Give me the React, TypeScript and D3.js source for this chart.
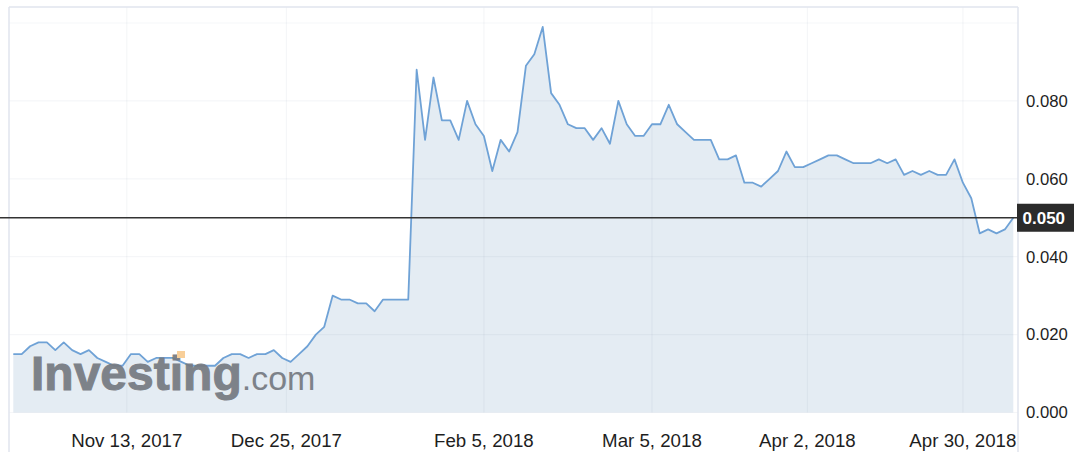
import React, { useEffect, useRef } from 'react';
import * as d3 from 'd3';

// daily closes, one per trading day
const prices: number[] = [
  0.015, 0.015, 0.017, 0.018, 0.018, 0.016, 0.018, 0.016, 0.015, 0.016,
  0.014, 0.013, 0.012, 0.012, 0.015, 0.015, 0.013, 0.014, 0.014, 0.014,
  0.013, 0.012, 0.012, 0.012, 0.012, 0.014, 0.015, 0.015, 0.014, 0.015,
  0.015, 0.016, 0.014, 0.013, 0.015, 0.017, 0.02, 0.022, 0.03, 0.029,
  0.029, 0.028, 0.028, 0.026, 0.029, 0.029, 0.029, 0.029, 0.088, 0.07,
  0.086, 0.075, 0.075, 0.07, 0.08, 0.074, 0.071, 0.062, 0.07, 0.067,
  0.072, 0.089, 0.092, 0.099, 0.082, 0.079, 0.074, 0.073, 0.073, 0.07,
  0.073, 0.069, 0.08, 0.074, 0.071, 0.071, 0.074, 0.074, 0.079, 0.074,
  0.072, 0.07, 0.07, 0.07, 0.065, 0.065, 0.066, 0.059, 0.059, 0.058,
  0.06, 0.062, 0.067, 0.063, 0.063, 0.064, 0.065, 0.066, 0.066, 0.065,
  0.064, 0.064, 0.064, 0.065, 0.064, 0.065, 0.061, 0.062, 0.061, 0.062,
  0.061, 0.061, 0.065, 0.059, 0.055, 0.046, 0.047, 0.046, 0.047, 0.05,
];

// date ticks sit at (fractional) trading-day positions
const xTickLabels = ['Nov 13, 2017', 'Dec 25, 2017', 'Feb 5, 2018', 'Mar 5, 2018', 'Apr 2, 2018', 'Apr 30, 2018'];
const xTickIndex = [13.5, 32.5, 56, 76, 94.5, 113];

const yGrid = [0, 0.02, 0.04, 0.06, 0.08, 0.1];
const yLabels = [0, 0.02, 0.04, 0.06, 0.08];

const lastPrice = 0.05;

export default function App() {
  const ref = useRef<SVGSVGElement>(null);

  useEffect(() => {
    document.body.style.margin = '0';

    const width = 1074;
    const height = 452;
    const frame = { left: 9, top: 7, right: 1018, bottom: 412.5 };
    const font = '"Liberation Sans", Arial, Helvetica, sans-serif';

    const svg = d3.select(ref.current);
    svg.selectAll('*').remove();

    const xScale = d3
      .scaleLinear()
      .domain([0, prices.length - 1])
      .range([13.3, 1013.3]);

    const yScale = d3.scaleLinear().domain([0, 0.1]).range([frame.bottom, 23]);

    svg.append('rect').attr('width', width).attr('height', height).attr('fill', '#fff');

    const area = d3
      .area<number>()
      .x((d, i) => xScale(i))
      .y0(yScale(0))
      .y1((d) => yScale(d));

    const line = d3
      .line<number>()
      .x((d, i) => xScale(i))
      .y((d) => yScale(d));

    svg.append('path').datum(prices).attr('d', area).attr('fill', '#e4ecf3');

    // grid
    const grid = svg.append('g').attr('stroke', '#5a6e8c').attr('stroke-opacity', 0.06).attr('stroke-width', 1.2);
    grid
      .selectAll('line.h')
      .data(yGrid)
      .enter()
      .append('line')
      .attr('x1', frame.left)
      .attr('x2', frame.right)
      .attr('y1', (d) => yScale(d))
      .attr('y2', (d) => yScale(d));
    grid
      .selectAll('line.v')
      .data(xTickIndex)
      .enter()
      .append('line')
      .attr('x1', (d) => xScale(d))
      .attr('x2', (d) => xScale(d))
      .attr('y1', frame.top)
      .attr('y2', frame.bottom);

    svg
      .append('path')
      .datum(prices)
      .attr('d', line)
      .attr('fill', 'none')
      .attr('stroke', '#6fa2d6')
      .attr('stroke-width', 1.8)
      .attr('stroke-linejoin', 'round');

    // watermark
    const wm = svg.append('g').attr('opacity', 0.93).attr('font-family', font).attr('fill', '#767a81');
    const wmText = wm.append('text').attr('x', 31).attr('y', 390);
    wmText
      .append('tspan')
      .attr('font-size', 48)
      .attr('font-weight', 'bold')
      .attr('stroke', '#767a81')
      .attr('stroke-width', 1)
      .text('Investing');
    wmText.append('tspan').attr('font-size', 34).text('.com');
    wm.append('rect').attr('x', 177).attr('y', 351).attr('width', 8).attr('height', 7).attr('fill', '#f8cc92');

    // frame
    const border = svg.append('g').attr('stroke', '#e0e5ee').attr('stroke-width', 1.5).attr('fill', 'none');
    border.append('line').attr('x1', frame.left).attr('x2', frame.right).attr('y1', frame.top).attr('y2', frame.top);
    border.append('line').attr('x1', frame.left).attr('x2', frame.left).attr('y1', frame.top).attr('y2', height);
    border.append('line').attr('x1', frame.right).attr('x2', frame.right).attr('y1', frame.top).attr('y2', height);

    // axes labels
    svg
      .append('g')
      .selectAll('text')
      .data(yLabels)
      .enter()
      .append('text')
      .attr('x', 1026)
      .attr('y', (d) => yScale(d))
      .attr('dy', '0.35em')
      .attr('font-family', font)
      .attr('font-size', 16.7)
      .attr('fill', '#1e1e1e')
      .text((d) => d3.format('.3f')(d));

    svg
      .append('g')
      .selectAll('text')
      .data(xTickIndex)
      .enter()
      .append('text')
      .attr('x', (d) => xScale(d))
      .attr('y', 447)
      .attr('text-anchor', 'middle')
      .attr('font-family', font)
      .attr('font-size', 18.7)
      .attr('fill', '#1e1e1e')
      .text((d, i) => xTickLabels[i]);

    // last price marker
    const yLast = yScale(lastPrice);
    svg
      .append('line')
      .attr('x1', 0)
      .attr('x2', frame.right)
      .attr('y1', yLast)
      .attr('y2', yLast)
      .attr('stroke', '#333')
      .attr('stroke-width', 1.5);
    svg
      .append('rect')
      .attr('x', frame.right - 1)
      .attr('y', yLast - 14)
      .attr('width', width - frame.right + 1)
      .attr('height', 28)
      .attr('fill', '#2b2b2b');
    svg
      .append('text')
      .attr('x', 1022.5)
      .attr('y', yLast)
      .attr('dy', '0.36em')
      .attr('font-family', font)
      .attr('font-size', 17)
      .attr('font-weight', 'bold')
      .attr('fill', '#fff')
      .text(d3.format('.3f')(lastPrice));
  }, []);

  return <svg ref={ref} width={1074} height={452} style={{ display: 'block' }} />;
}
